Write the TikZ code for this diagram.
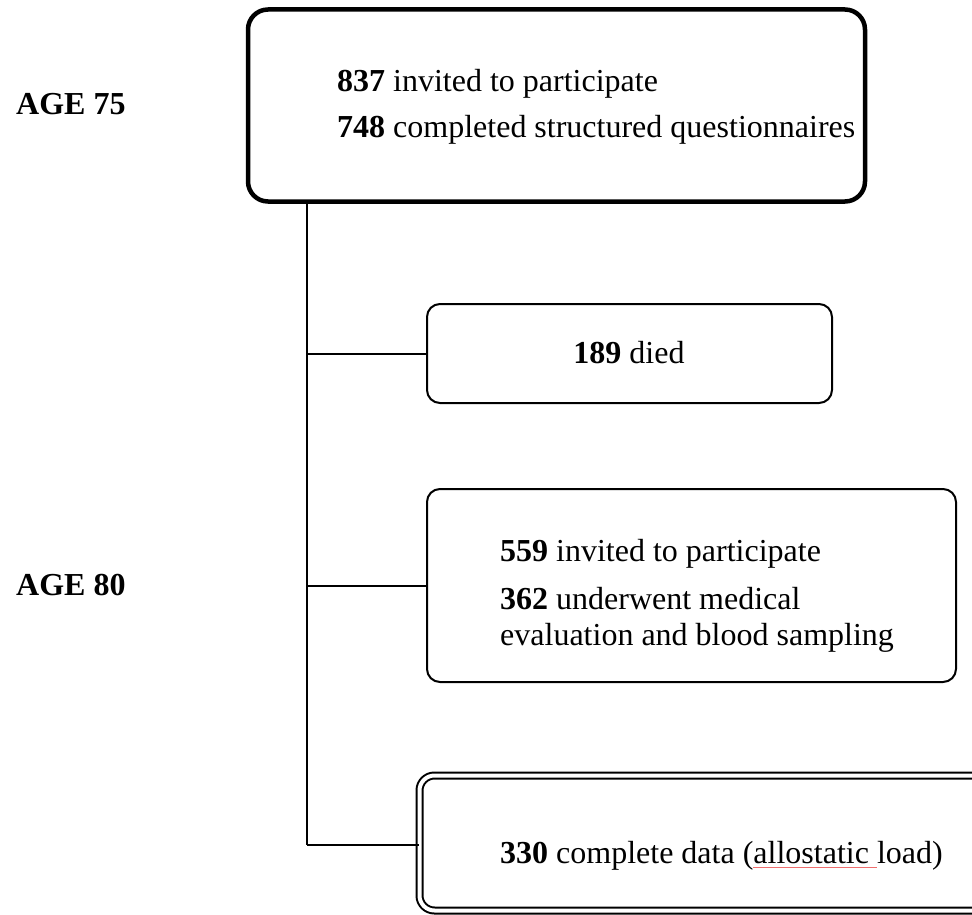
\documentclass[tikz,border=0pt]{standalone}
\usepackage{fontspec}
\setmainfont{Liberation Serif}
\definecolor{spellred}{RGB}{240,110,110}
\begin{document}
\begin{tikzpicture}[x=1pt,y=-1pt,
  txt/.style={font=\fontsize{32}{37}\selectfont, inner sep=0pt, anchor=base west},
  bigbox/.style={draw, line width=4.5pt, rounded corners=20pt, inner sep=0pt},
  midbox/.style={draw, line width=2pt, rounded corners=13pt, inner sep=0pt},
  dblbox/.style={draw, line width=2pt, double, double distance=4pt, rounded corners=15pt, inner sep=0pt},
  link/.style={line width=2pt},
  spine/.style={line width=2.6pt}]
\useasboundingbox (0,0) rectangle (972,915);
\clip (0,0) rectangle (972,915);

% labels
\node[txt] (age75) at (16,115) {\textbf{AGE 75}};
\node[txt] (age80) at (16,595) {\textbf{AGE 80}};

% boxes
\node[bigbox, minimum width=617pt, minimum height=192pt] (top) at (556.5,105.5) {};
\node[midbox, minimum width=405pt, minimum height=99pt] (died) at (629.5,353.5) {};
\node[midbox, minimum width=529pt, minimum height=193pt] (inv80) at (691.5,585.5) {};
\node[dblbox, minimum width=600pt, minimum height=135pt] (final) at (719.5,843) {};

% texts
\node[txt] (t1) at (337,92) {\textbf{837} invited to participate};
\node[txt] (t2) at (337,138) {\textbf{748} completed structured questionnaires};
\node[txt, anchor=base] (t3) at (629,363) {\textbf{189} died};
\node[txt] (t4) at (500,561) {\textbf{559} invited to participate};
\node[txt] (t5) at (500,609) {\textbf{362} underwent medical};
\node[txt] (t6) at (500,645) {evaluation and blood sampling};
\node[txt] (t7) at (500,863) {\textbf{330} complete data (allostatic load)};

% spell-check underline
\coordinate (ul1) at (753,867);
\coordinate (ul2) at (877,867);
\draw[spellred, line width=1pt] (ul1) -- (ul2);

% connectors
\coordinate (sTop) at (307,201);
\coordinate (sBot) at (307,845);
\draw[spine] (sTop) -- (sBot);
\draw[link] (sBot) -- (sBot -| final.west);
\draw[link] (sTop |- died.west) -- (died.west);
\draw[link] (sTop |- inv80.west) -- (inv80.west);
\end{tikzpicture}
\end{document}
